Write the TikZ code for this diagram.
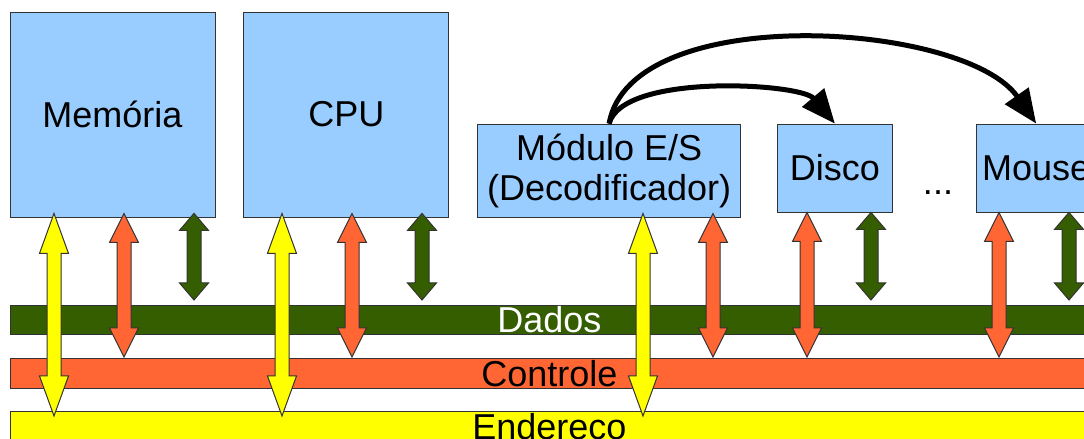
\documentclass[tikz,border=0pt]{standalone}
\usepackage{fontspec}
\setmainfont{Liberation Sans}
\usetikzlibrary{positioning, calc, arrows.meta}

\definecolor{boxblue}{RGB}{153,204,255}
\definecolor{datagreen}{RGB}{53,94,0}
\definecolor{ctrlred}{RGB}{255,102,51}
\definecolor{addryellow}{RGB}{255,255,0}

\tikzset{
    headlen/.store in=\headlen, headlen=14.5pt,
    toplift/.store in=\toplift, toplift=0pt,
    botgap/.store in=\botgap, botgap=0pt
}

% block arrow between a box (top) and a bus (bottom)
\newcommand{\busarrow}[4]{%
  \draw[bus arrow, #1] let \p1=(#2,0 |- #3.south), \p2=(#2,0 |- #4.north),
      \n1={\y1+\toplift}, \n2={\y2+\botgap} in
    (\x1,\n1) -- (\x1+7.25pt,\n1-\headlen) -- (\x1+3.5pt,\n1-\headlen)
    -- (\x1+3.5pt,\n2+\headlen) -- (\x1+7.25pt,\n2+\headlen) -- (\x1,\n2)
    -- (\x1-7.25pt,\n2+\headlen) -- (\x1-3.5pt,\n2+\headlen)
    -- (\x1-3.5pt,\n1-\headlen) -- (\x1-7.25pt,\n1-\headlen) -- cycle;}

\begin{document}
\begin{tikzpicture}[
    x=0.5pt, y=0.5pt,
    font=\fontsize{18}{20}\selectfont,
    box/.style={draw=black!80, fill=boxblue, inner sep=2pt},
    bus/.style={draw=black!80, minimum width=539pt, inner sep=0pt, text height=13pt, text depth=0pt},
    bus arrow/.style={draw=black!80, line width=0.5pt, line join=miter},
    addr arrow/.style={fill=addryellow, headlen=20pt, botgap=-2.5pt},
    ctrl arrow/.style={fill=ctrlred, headlen=14.5pt, botgap=0.5pt},
    data arrow/.style={fill=datagreen, headlen=8.5pt, botgap=2.5pt},
    link/.style={line width=2.5pt, -{Triangle[length=17pt, width=14pt]}}
]
   \useasboundingbox (0,0) rectangle (1084,439);
   \clip (0,0) rectangle (1084,439);

   % Boxes
   \node[box, minimum width=102.5pt, minimum height=102.5pt] (mem) at (112.5,324.5) {Memória};
   \node[box, minimum width=102.5pt, minimum height=102.5pt, right=14pt of mem] (cpu) {CPU};
   \node[box, align=center, minimum width=131.5pt, minimum height=46.5pt,
         right=14pt of cpu.south east, anchor=south west] (es) {Módulo E/S\\(Decodificador)};
   \node[box, minimum width=57.5pt, minimum height=44pt,
         right=18pt of es.north east, anchor=north west] (disco) {Disco};
   \node[box, minimum width=60pt, minimum height=44pt,
         right=41.5pt of disco.north east, anchor=north west] (mouse) {Mouse};
   \node[anchor=base] (dots) at (938,244) {...};

   % Buses
   \node[bus, fill=datagreen, text=white, minimum height=14.5pt, anchor=north west] (dados) at (10,134) {Dados};
   \node[bus, fill=ctrlred, minimum height=15pt, anchor=north west] (controle) at (10,81) {Controle};
   \node[bus, fill=addryellow, minimum height=15pt, anchor=north west] (endereco) at (10,28) {Endereço};

   % Arrows to the buses
   \busarrow{addr arrow, toplift=2pt}{54}{mem}{endereco}
   \busarrow{ctrl arrow, toplift=2pt}{124}{mem}{controle}
   \busarrow{data arrow, toplift=2pt}{194}{mem}{dados}

   \busarrow{addr arrow, toplift=2pt}{282}{cpu}{endereco}
   \busarrow{ctrl arrow, toplift=2pt}{352}{cpu}{controle}
   \busarrow{data arrow, toplift=2pt}{422}{cpu}{dados}

   \busarrow{addr arrow, toplift=2pt}{643}{es}{endereco}
   \busarrow{ctrl arrow, toplift=2pt}{713}{es}{controle}

   \busarrow{ctrl arrow}{807}{disco}{controle}
   \busarrow{data arrow}{871}{disco}{dados}

   \busarrow{ctrl arrow}{999}{mouse}{controle}
   \busarrow{data arrow}{1069}{mouse}{dados}

   % Decoder selects the device
   \draw[link] (es.north) to[out=75, in=130, looseness=0.6] (disco.north);
   \draw[link] (es.north) to[out=80, in=125, looseness=0.75] (mouse.north);
\end{tikzpicture}
\end{document}
